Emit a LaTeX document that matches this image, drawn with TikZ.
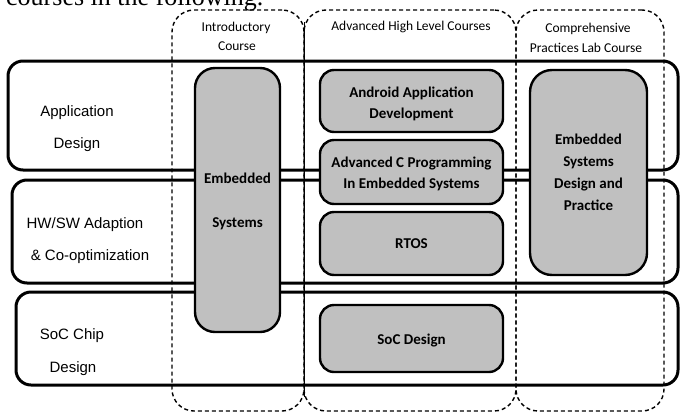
\documentclass[tikz,border=0pt]{standalone}
\usepackage{fontspec}
\setmainfont{Liberation Serif}
\newfontfamily\arialf{Liberation Sans}
\newfontfamily\calf{Carlito}
\definecolor{boxgrey}{RGB}{192,192,192}
\tikzset{
  rowbox/.style={draw, line width=3pt, rounded corners=15pt, inner sep=0pt, outer sep=0pt, anchor=north west},
  colbox/.style={draw, line width=1.4pt, dash pattern=on 4pt off 3pt, rounded corners=22pt, inner sep=0pt, outer sep=0pt, anchor=north west},
  gbox/.style={draw, line width=2.4pt, fill=boxgrey, rounded corners=14pt, inner sep=0pt, outer sep=0pt, anchor=north west},
  rowtxt/.style={font=\arialf\fontsize{15}{18}\selectfont, anchor=base, inner sep=0pt},
  boxtxt/.style={font=\calf\bfseries\fontsize{15}{18}\selectfont, anchor=base, inner sep=0pt},
  coltxt/.style={font=\calf\fontsize{13.5}{16}\selectfont, anchor=base, inner sep=0pt},
}
\begin{document}
\begin{tikzpicture}[x=1pt, y=-1pt]
\useasboundingbox (0,0) rectangle (680,413);
\clip (0,0) rectangle (680,413);

% cut-off text at top
\node[font=\fontsize{26}{30}\selectfont, anchor=base west, inner sep=0pt] (toptext) at (6,5) {courses in the following.};

% rows
\node[rowbox, minimum width=670pt, minimum height=109pt] (row1) at (8,61) {};
\node[rowbox, minimum width=666pt, minimum height=103pt] (row2) at (12,180) {};
\node[rowbox, minimum width=662pt, minimum height=93pt] (row3) at (16,292) {};

% dashed columns
\node[colbox, minimum width=132pt, minimum height=401pt] (col1) at (172,10) {};
\node[colbox, minimum width=212pt, minimum height=401pt] (col2) at (304,10) {};
\node[colbox, minimum width=148pt, minimum height=401pt] (col3) at (516,10) {};
\draw[line width=0.8pt] (col1.north east) ++(0,12) coordinate (sepA) (col1.south east) ++(0,-14) coordinate (sepB);
\draw[line width=0.8pt] (sepA) -- (sepB);

% column labels
\node[coltxt] (c1a) at (236,31) {Introductory};
\node[coltxt] (c1b) at (237,50) {Course};
\node[coltxt] (c2a) at (411,30) {Advanced High Level Courses};
\node[coltxt] (c3a) at (588,32) {Comprehensive};
\node[coltxt] (c3b) at (586,52) {Practices Lab Course};

% row labels
\node[rowtxt] (r1a) at (77,116.5) {Application};
\node[rowtxt] (r1b) at (77,148) {Design};
\node[rowtxt] (r2a) at (85,228) {HW/SW Adaption};
\node[rowtxt] (r2b) at (90,260) {\& Co-optimization};
\node[rowtxt] (r3a) at (72,339) {SoC Chip};
\node[rowtxt] (r3b) at (73,372) {Design};

% grey boxes
\node[gbox, rounded corners=20pt, minimum width=85pt, minimum height=264pt] (es) at (195,68) {};
\node[gbox, minimum width=183pt, minimum height=62pt] (android) at (320,70) {};
\node[gbox, minimum width=183pt, minimum height=64pt] (advc) at (320,140) {};
\node[gbox, minimum width=183pt, minimum height=63pt] (rtos) at (320,212) {};
\node[gbox, minimum width=183pt, minimum height=67pt] (soc) at (320,305) {};
\node[gbox, rounded corners=22pt, minimum width=117pt, minimum height=205pt] (esdp) at (530,70) {};

% grey box texts
\node[boxtxt] (es1) at (237.5,183) {Embedded};
\node[boxtxt] (es2) at (237.5,227) {Systems};
\node[boxtxt] (an1) at (411.5,97) {Android Application};
\node[boxtxt] (an2) at (411.5,118) {Development};
\node[boxtxt] (ac1) at (411.5,167) {Advanced C Programming};
\node[boxtxt] (ac2) at (411.5,188) {In Embedded Systems};
\node[boxtxt] (rt1) at (411.5,248) {RTOS};
\node[boxtxt] (so1) at (411.5,344) {SoC Design};
\node[boxtxt] (ed1) at (588.5,144) {Embedded};
\node[boxtxt] (ed2) at (588.5,166) {Systems};
\node[boxtxt] (ed3) at (588.5,188) {Design and};
\node[boxtxt] (ed4) at (588.5,210) {Practice};
\end{tikzpicture}
\end{document}
